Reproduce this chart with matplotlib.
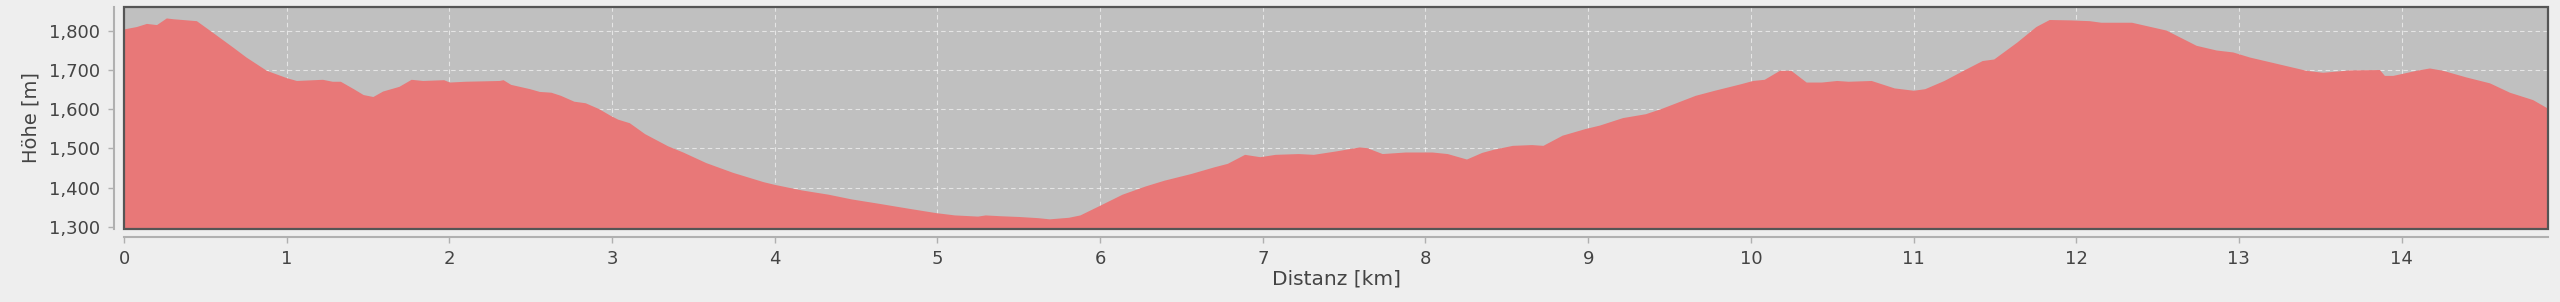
import matplotlib.pyplot as plt
from matplotlib.patches import Rectangle

# Höhenprofil
dist_km = [0.0, 0.076, 0.138, 0.2, 0.26, 0.30, 0.445, 0.545, 0.67, 0.75, 0.875,
           1.0, 1.06, 1.22, 1.28, 1.33, 1.41, 1.47, 1.53, 1.59, 1.69,
           1.765, 1.836, 1.965, 2.0, 2.094, 2.306, 2.33, 2.377, 2.494, 2.553,
           2.624, 2.683, 2.765, 2.835, 2.918, 2.988, 3.035, 3.106, 3.2, 3.341,
           3.435, 3.576, 3.741, 3.93, 4.0, 4.164, 4.329, 4.47, 4.635, 4.823,
           4.988, 5.105, 5.247, 5.294, 5.383, 5.5, 5.617, 5.688, 5.806, 5.876,
           5.994, 6.135, 6.276, 6.394, 6.558, 6.699, 6.782, 6.888, 6.982, 7.076,
           7.217, 7.311, 7.452, 7.593, 7.64, 7.734, 7.876, 8.04, 8.134, 8.252,
           8.346, 8.417, 8.534, 8.652, 8.722, 8.84, 8.981, 9.07, 9.211, 9.352,
           9.446, 9.658, 9.776, 9.94, 10.011, 10.082, 10.176, 10.246, 10.34, 10.434,
           10.528, 10.599, 10.74, 10.881, 10.999, 11.069, 11.187, 11.305, 11.422, 11.493,
           11.634, 11.752, 11.834, 11.963, 12.081, 12.152, 12.34, 12.552, 12.737, 12.86,
           12.962, 13.065, 13.229, 13.413, 13.515, 13.679, 13.864, 13.894, 13.946, 14.089,
           14.171, 14.253, 14.396, 14.54, 14.663, 14.806, 14.894]
elev_m = [1806, 1812, 1820, 1817, 1834, 1832, 1827, 1797, 1759, 1734, 1700,
          1681, 1674, 1677, 1672, 1672, 1653, 1638, 1633, 1647, 1659,
          1677, 1674, 1676, 1670, 1672, 1674, 1676, 1664, 1653, 1646,
          1644, 1636, 1621, 1617, 1602, 1585, 1575, 1566, 1538, 1507,
          1491, 1464, 1439, 1415, 1408, 1394, 1383, 1371, 1360, 1347,
          1336, 1330, 1327, 1330, 1328, 1326, 1323, 1320, 1324, 1330,
          1354, 1383, 1404, 1419, 1436, 1453, 1462, 1485, 1479, 1485,
          1487, 1485, 1494, 1504, 1502, 1487, 1491, 1491, 1487, 1473,
          1490, 1498, 1508, 1510, 1508, 1534, 1551, 1560, 1579, 1589,
          1602, 1636, 1649, 1666, 1674, 1677, 1700, 1700, 1670, 1670,
          1674, 1672, 1674, 1655, 1649, 1653, 1674, 1700, 1725, 1729,
          1772, 1812, 1830, 1829, 1827, 1823, 1823, 1803, 1764, 1752,
          1747, 1734, 1718, 1700, 1695, 1701, 1702, 1687, 1687, 1700,
          1706, 1700, 1683, 1668, 1644, 1625, 1604]

y_ticks = [1300, 1400, 1500, 1600, 1700, 1800]
x_ticks = list(range(0, 15))

fig = plt.figure(figsize=(25.6, 3.02), dpi=100, facecolor="#eeeeee")
ax = fig.add_axes([124 / 2560, 73 / 302, 2424 / 2560, 222 / 302])
ax.set_facecolor("#c0c0c0")

ax.fill_between(dist_km, elev_m, 1200, color="#e87878", linewidth=0, zorder=2)

ax.set_xlim(0, 14.9)
ax.set_ylim(1294, 1862)
ax.set_xticks(x_ticks)
ax.set_yticks(y_ticks)
ax.set_yticklabels([f"{v:,}" for v in y_ticks])

ax.grid(True, color="white", linestyle=(0, (4, 3)), linewidth=0.8, alpha=0.6, zorder=1)
ax.set_axisbelow(True)

for s in ["top", "right"]:
    ax.spines[s].set_visible(False)
ax.spines["bottom"].set_position(("outward", 6))
ax.spines["left"].set_position(("outward", 7))
ax.spines["bottom"].set_color("#b0b0b0")
ax.spines["left"].set_color("#b0b0b0")
ax.spines["bottom"].set_linewidth(1.5)
ax.spines["left"].set_linewidth(1.5)

# Rahmen der Zeichenfläche
ax.add_patch(Rectangle((0, 0), 1, 1, transform=ax.transAxes, fill=False,
                       edgecolor="#555555", linewidth=1.6, zorder=5, clip_on=False))

ax.tick_params(axis="both", colors="#b0b0b0", labelcolor="#444444",
               labelsize=13, length=4, width=1)
ax.tick_params(axis="x", pad=5)
ax.tick_params(axis="y", pad=6)

ax.set_xlabel("Distanz [km]", fontsize=14.5, color="#444444", labelpad=1)
ax.set_ylabel("Höhe [m]", fontsize=14, color="#444444", labelpad=6)

fig.savefig("out.png", dpi=100, facecolor=fig.get_facecolor())
